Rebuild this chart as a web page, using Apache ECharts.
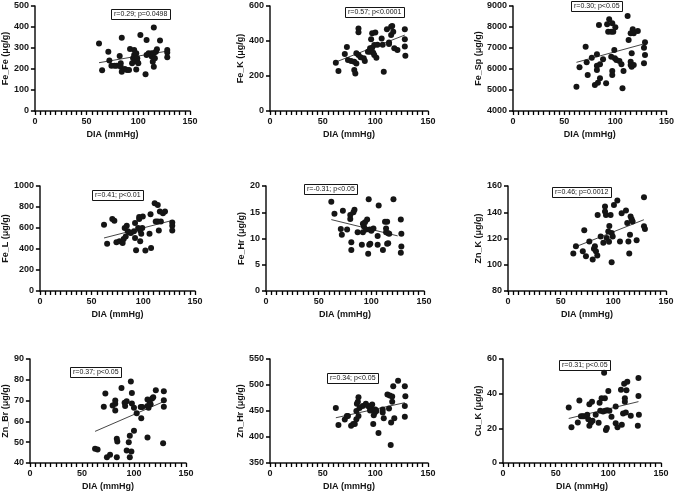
<!DOCTYPE html>
<html>
<head>
<meta charset="utf-8">
<script src="https://cdn.jsdelivr.net/npm/echarts@6/dist/echarts.min.js"></script>
<style>
	html, body { margin: 0; padding: 0; background: #fff; }
	#chartView { width: 677px; height: 492px; }
</style>
</head>
<body>
<div id="chartView"></div>
<script>
// x ticks (DIA, mmHg)
var xTicks = [0, 50, 100, 150];
var xMinorStep = 5;

// points [DIA, value]
var feFe = [[62,322],[65,194],[71,282],[72,240],[74,216],[77,216],[79,216],[82,262],[83,227],[83,211],[84,349],[84,187],[87,200],[89,195],[91,195],[92,295],[94,227],[95,251],[96,290],[96,267],[97,243],[98,198],[98,275],[99,251],[99,235],[100,227],[102,362],[107,175],[108,338],[108,267],[110,275],[113,259],[113,275],[114,235],[115,211],[115,398],[115,275],[116,251],[117,282],[118,294],[121,336],[128,290],[128,279],[128,256]];
var feK = [[62.5,276],[65,229],[71,326],[73,366],[74,291],[77,286],[80,282],[80,234],[81,215],[82,272],[82,330],[84,472],[84,450],[84,320],[86,307],[89,301],[90,286],[93,339],[95,339],[95,358],[96,410],[97,362],[97,444],[98,333],[99,377],[99,320],[100,448],[101,305],[102,379],[106,415],[107,379],[108,225],[111,467],[113,391],[113,383],[115,434],[115,482],[116,486],[117,453],[118,358],[121,349],[128,467],[128,410],[128,368],[128.5,316]];
var feSp = [[62,5159],[65,6079],[71,7063],[72,6317],[73,5714],[77,6539],[80,5238],[82,6698],[82,6158],[82,5952],[83,5349],[84,8095],[85,6222],[85,5555],[88,6460],[91,5317],[92,8127],[93,7777],[94,8365],[96,7777],[96,6587],[97,8175],[97,5904],[97,5714],[98,7777],[99,6904],[99.5,6508],[100,7984],[101,6428],[104,6380],[106,6222],[107,5079],[108,5904],[112,8523],[113,7380],[115,6349],[115,6190],[115,7698],[116,6746],[116,6111],[117,7888],[118,6190],[118,7698],[122,7809],[128,7016],[128,6270],[129,6666],[129,7270]];
var feL = [[62,631],[65,451],[70,685],[72,669],[74,464],[77,473],[80,457],[81,495],[82,599],[83,520],[84,621],[85,568],[87,558],[88,552],[91,568],[92,647],[92,505],[93,388],[95,599],[96,685],[96,704],[97,473],[97,577],[98,546],[99,599],[99.5,710],[102,385],[106,546],[107,732],[107.5,410],[111,836],[112,663],[114,663],[114,820],[115,577],[116,757],[117,663],[119,741],[121,757],[128,653],[128,621],[128,577]];
var feHr = [[62,17.0],[65,14.7],[71,11.8],[72,10.7],[73,15.3],[77,11.7],[80,13.7],[80,14.5],[81,9.3],[81,7.8],[83,15.0],[84,15.5],[87,11.2],[91,8.8],[92,12.8],[92,11.2],[93,12.3],[94,13.1],[95,11.7],[96,13.6],[97,7.1],[97.5,17.5],[98,8.8],[98.5,11.7],[99,9.0],[100,11.5],[102,11.9],[106,10.5],[106,8.8],[107,16.3],[111,7.8],[113,13.2],[114,11.2],[114,11.9],[115,9.0],[115,13.2],[116,11.0],[116,9.1],[117,10.9],[121,17.5],[128,13.6],[128.5,10.9],[128.5,8.5],[128,7.3]];
var znK = [[62,108.5],[64.5,114.1],[71,110.3],[72.4,126.2],[74,106.5],[77.2,117.8],[80.4,104],[81.6,112.1],[82.5,114.1],[83.5,110.3],[84.8,107],[85.1,138],[88,121.6],[90.5,116.7],[92.1,144.3],[92.1,140.5],[93,138],[93.7,120.4],[95.2,125.3],[95.9,117.5],[96.2,129.5],[97.4,138],[98.4,101.9],[98.4,124.1],[99.4,121.6],[100.6,145.6],[103.8,149],[106.3,117.8],[107.9,139.3],[112,141.4],[113.2,131.8],[114.3,117.8],[115.1,108.5],[115.8,122.8],[116.4,136.7],[117.4,134.7],[118.3,132.9],[122.1,118.6],[129.1,151.4],[129.1,129.3],[130,127.3]];
var znBr = [[62.6,46.8],[65,46.5],[71,67.1],[72.5,73.4],[74,42.8],[77,44.0],[79.5,67.7],[82,65.3],[82,68.5],[82,70.1],[83.5,51.6],[84,50.3],[83.5,42.8],[88,76.1],[91,69.0],[91.5,67.4],[93,69.7],[93,46.0],[95,50.0],[96,53.1],[96,42.8],[97,79.2],[97.5,45.5],[98,73.7],[98,68.6],[100,66.6],[100,55.5],[102.6,63.9],[106.5,66.9],[107,61.5],[108,66.9],[113,52.3],[113,70.5],[113,67.4],[114,66.6],[115,69.7],[116,68.2],[117.5,71.0],[118.5,71.6],[121,75.0],[128,49.5],[128.7,67.1],[128.7,70.2],[128.7,74.5]];
var znHr = [[62.5,456],[65,423],[71,433.5],[73,440.5],[74,440.5],[77,421.5],[79,425],[80.5,425],[82,434],[82,450],[82.5,464],[83.4,468],[84,476.6],[84,440.5],[85,456],[88,459.5],[91,464],[93,459.5],[95,456],[95,451],[96,459.5],[97,462.7],[98,425],[98.5,442],[99.5,447],[100,453],[101,450],[103,407.6],[107,447],[107,453],[108,436],[111.5,481.6],[113,455],[113.7,480],[114.6,384.8],[115,428],[116,468],[116,478],[117,497.5],[118,436],[121.6,508],[128,497.5],[128.5,478.5],[128,459.5],[128,439]];
var cuK = [[62.4,32],[65,20.6],[71,23.4],[72.5,36],[74,26.9],[75.6,26.9],[77,26.9],[80,27.8],[81,25.3],[82,33.9],[82,21.5],[83.5,23.4],[84.5,35.4],[85,24.4],[88,27.8],[90.8,23.2],[91.7,34.7],[92.3,30.1],[93.6,37.3],[95,29.7],[96,52],[96.7,37.3],[97,30.1],[97.7,19],[98.6,20.2],[99,30.5],[100,41.5],[101,30.1],[103,26.7],[107,32.6],[107,22.9],[108.7,20.6],[112,42.3],[112.8,22.1],[114,28.6],[115,45.7],[115.7,35.4],[115.7,37.3],[116.6,29.1],[117.2,41.9],[118,46.9],[121.3,27.2],[128.6,49.1],[128.6,38.7],[129,27.8],[128,21.5]];

// fitted regression lines (end points)
var feFeFit = [[62,230],[129,286]];
var feKFit = [[62.5,280],[128,434]];
var feSpFit = [[62,6317],[130,7222]];
var feLFit = [[62,505],[128,672]];
var feHrFit = [[62,13.6],[125,10.5]];
var znKFit = [[62,113],[129,134.3]];
var znBrFit = [[62.6,55.2],[128,69.4]];
var znHrFit = [[62.5,437],[128,466]];
var cuKFit = [[62.4,25.7],[128.6,35.4]];

// y axis names, ranges and stats text
var yNames = ['Fe_Fe (μg/g)', 'Fe_K (μg/g)', 'Fe_Sp (μg/g)', 'Fe_L (μg/g)', 'Fe_Hr (μg/g)', 'Zn_K (μg/g)', 'Zn_Br (μg/g)', 'Zn_Hr (μg/g)', 'Cu_K (μg/g)'];
var yMins = [0, 0, 4000, 0, 0, 80, 40, 350, 0];
var yMaxs = [500, 600, 9000, 1000, 20, 160, 90, 550, 60];
var yIntervals = [100, 200, 1000, 200, 5, 20, 10, 50, 20];
var statTexts = ['r=0.29; p=0.0498', 'r=0.57; p<0.0001', 'r=0.30; p<0.05', 'r=0.41; p<0.01', 'r=-0.31; p<0.05', 'r=0.46; p=0.0012', 'r=0.37; p<0.05', 'r=0.34; p<0.05', 'r=0.31; p<0.05'];

var allPts = [feFe, feK, feSp, feL, feHr, znK, znBr, znHr, cuK];
var allFits = [feFeFit, feKFit, feSpFit, feLFit, feHrFit, znKFit, znBrFit, znHrFit, cuKFit];

// layout: grid left/top, y name gap, stats box left/top
var gridLeft = [32, 270, 513, 37, 266, 508, 28, 270, 503];
var gridTop = [6, 6, 6, 186, 186, 186, 359, 359, 359];
var yNameGap = [22, 18, 26, 27, 19, 22, 18, 22, 16];
var boxLeft = [111, 345, 571, 92, 304, 552, 70, 327, 559];
var boxTop = [9, 7, 1, 190, 184, 187, 367, 373, 360];

var FONT = 'Liberation Sans, Arial, sans-serif';
var INK = '#151515';

function plainNum(v){
	return String(v);
}
// only the major x values get a label; the rest are minor ticks
function xLabel(v){
	return xTicks.indexOf(v) >= 0 ? String(v) : '';
}

function buildOption(){
	var grids = [], xAxes = [], yAxes = [], series = [], titles = [];
	var xMin = xTicks[0], xMax = xTicks[xTicks.length - 1];
	for (var i = 0; i < allPts.length; i++) {
		grids.push({ left: gridLeft[i], top: gridTop[i], width: 158, height: 105 });
		xAxes.push({
			gridIndex: i, type: 'value', min: xMin, max: xMax, interval: xMinorStep,
			name: 'DIA (mmHg)', nameLocation: 'middle', nameGap: 19,
			nameTextStyle: { fontFamily: FONT, fontWeight: 'bold', fontSize: 9, color: INK },
			axisLine: { onZero: false, lineStyle: { color: INK, width: 1.5 } },
			axisTick: { show: true, inside: false, length: 4, lineStyle: { color: '#000', width: 1.3 } },
			axisLabel: { interval: 0, hideOverlap: false, margin: 6, fontFamily: FONT, fontWeight: 'bold', fontSize: 9, color: INK, formatter: xLabel },
			splitLine: { show: false }
		});
		yAxes.push({
			gridIndex: i, type: 'value', min: yMins[i], max: yMaxs[i], interval: yIntervals[i],
			name: yNames[i], nameLocation: 'middle', nameGap: yNameGap[i],
			nameTextStyle: { fontFamily: FONT, fontWeight: 'bold', fontSize: 9, color: INK },
			axisLine: { show: true, onZero: false, lineStyle: { color: INK, width: 1.5 } },
			axisTick: { show: true, inside: false, length: 4, lineStyle: { color: '#000', width: 1.5 } },
			axisLabel: { margin: 6, fontFamily: FONT, fontWeight: 'bold', fontSize: 9, color: INK, formatter: plainNum },
			splitLine: { show: false }
		});
		series.push({
			type: 'scatter', xAxisIndex: i, yAxisIndex: i, data: allPts[i],
			symbol: 'circle', symbolSize: 6, itemStyle: { color: INK, opacity: 1 }, silent: true
		});
		series.push({
			type: 'line', xAxisIndex: i, yAxisIndex: i, data: allFits[i],
			symbol: 'none', lineStyle: { color: INK, width: 0.8 }, silent: true
		});
		titles.push({
			text: statTexts[i], left: boxLeft[i], top: boxTop[i],
			borderColor: INK, borderWidth: 1, padding: [2, 3],
			textStyle: { fontFamily: FONT, fontWeight: 'normal', fontSize: 7, color: INK }
		});
	}
	return {
		backgroundColor: '#fff',
		animation: false,
		title: titles,
		grid: grids,
		xAxis: xAxes,
		yAxis: yAxes,
		series: series
	};
}

var myChart = echarts.init(document.getElementById('chartView'));
myChart.setOption(buildOption());
</script>
</body>
</html>
